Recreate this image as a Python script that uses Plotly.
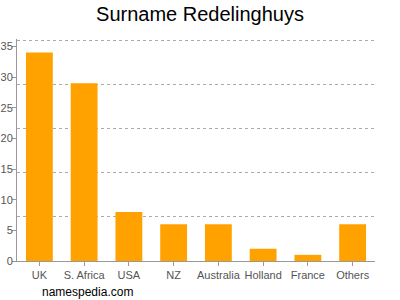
import plotly.graph_objects as go

categories = ["UK", "S. Africa", "USA", "NZ", "Australia", "Holland", "France", "Others"]
values = [34, 29, 8, 6, 6, 2, 1, 6]
y_ticks = [0, 5, 10, 15, 20, 25, 30, 35]
grid_vals = [7.2, 14.4, 21.6, 28.8, 36]

fig = go.Figure()
fig.add_trace(go.Bar(x=categories, y=values, marker=dict(color="#FFA200", line=dict(width=0)),
                     hoverinfo="skip"))
fig.add_trace(go.Scatter(x=categories, y=[None]*len(categories), yaxis="y2",
                         showlegend=False, hoverinfo="skip"))

fig.update_layout(
    width=400, height=300,
    margin=dict(l=17, r=25, t=39, b=39, autoexpand=False),
    paper_bgcolor="white", plot_bgcolor="white",
    showlegend=False, bargap=0.4,
    title=dict(text="Surname Redelinghuys", x=0.5, xanchor="center", y=0.955, yanchor="middle",
               font=dict(family="Liberation Sans, Arial", size=20, color="#000")),
    font=dict(family="Liberation Sans, Arial", size=11, color="#555"),
    xaxis=dict(showline=True, linecolor="#999", linewidth=1, ticks="outside", ticklen=4,
               tickcolor="#999", showgrid=False, tickfont=dict(size=11, color="#555"),
               automargin=False),
    yaxis=dict(range=[0, 36.2], tickvals=y_ticks, showline=True, linecolor="#999", linewidth=1,
               ticks="outside", ticklen=4, tickcolor="#999", showgrid=False, zeroline=False,
               tickfont=dict(size=11, color="#555"), automargin=False, ticklabelstandoff=-3),
    yaxis2=dict(range=[0, 36.2], overlaying="y", tickvals=grid_vals, showticklabels=False,
                showgrid=True, gridcolor="#aaa", griddash="3px,3px", gridwidth=1, zeroline=False,
                showline=False, automargin=False),
    annotations=[dict(text="namespedia.com", xref="paper", yref="paper", x=0.064, y=-0.1,
                      xanchor="left", yanchor="top", showarrow=False,
                      font=dict(family="Liberation Sans, Arial", size=12, color="#000"))],
)
fig.write_html("out.html")
